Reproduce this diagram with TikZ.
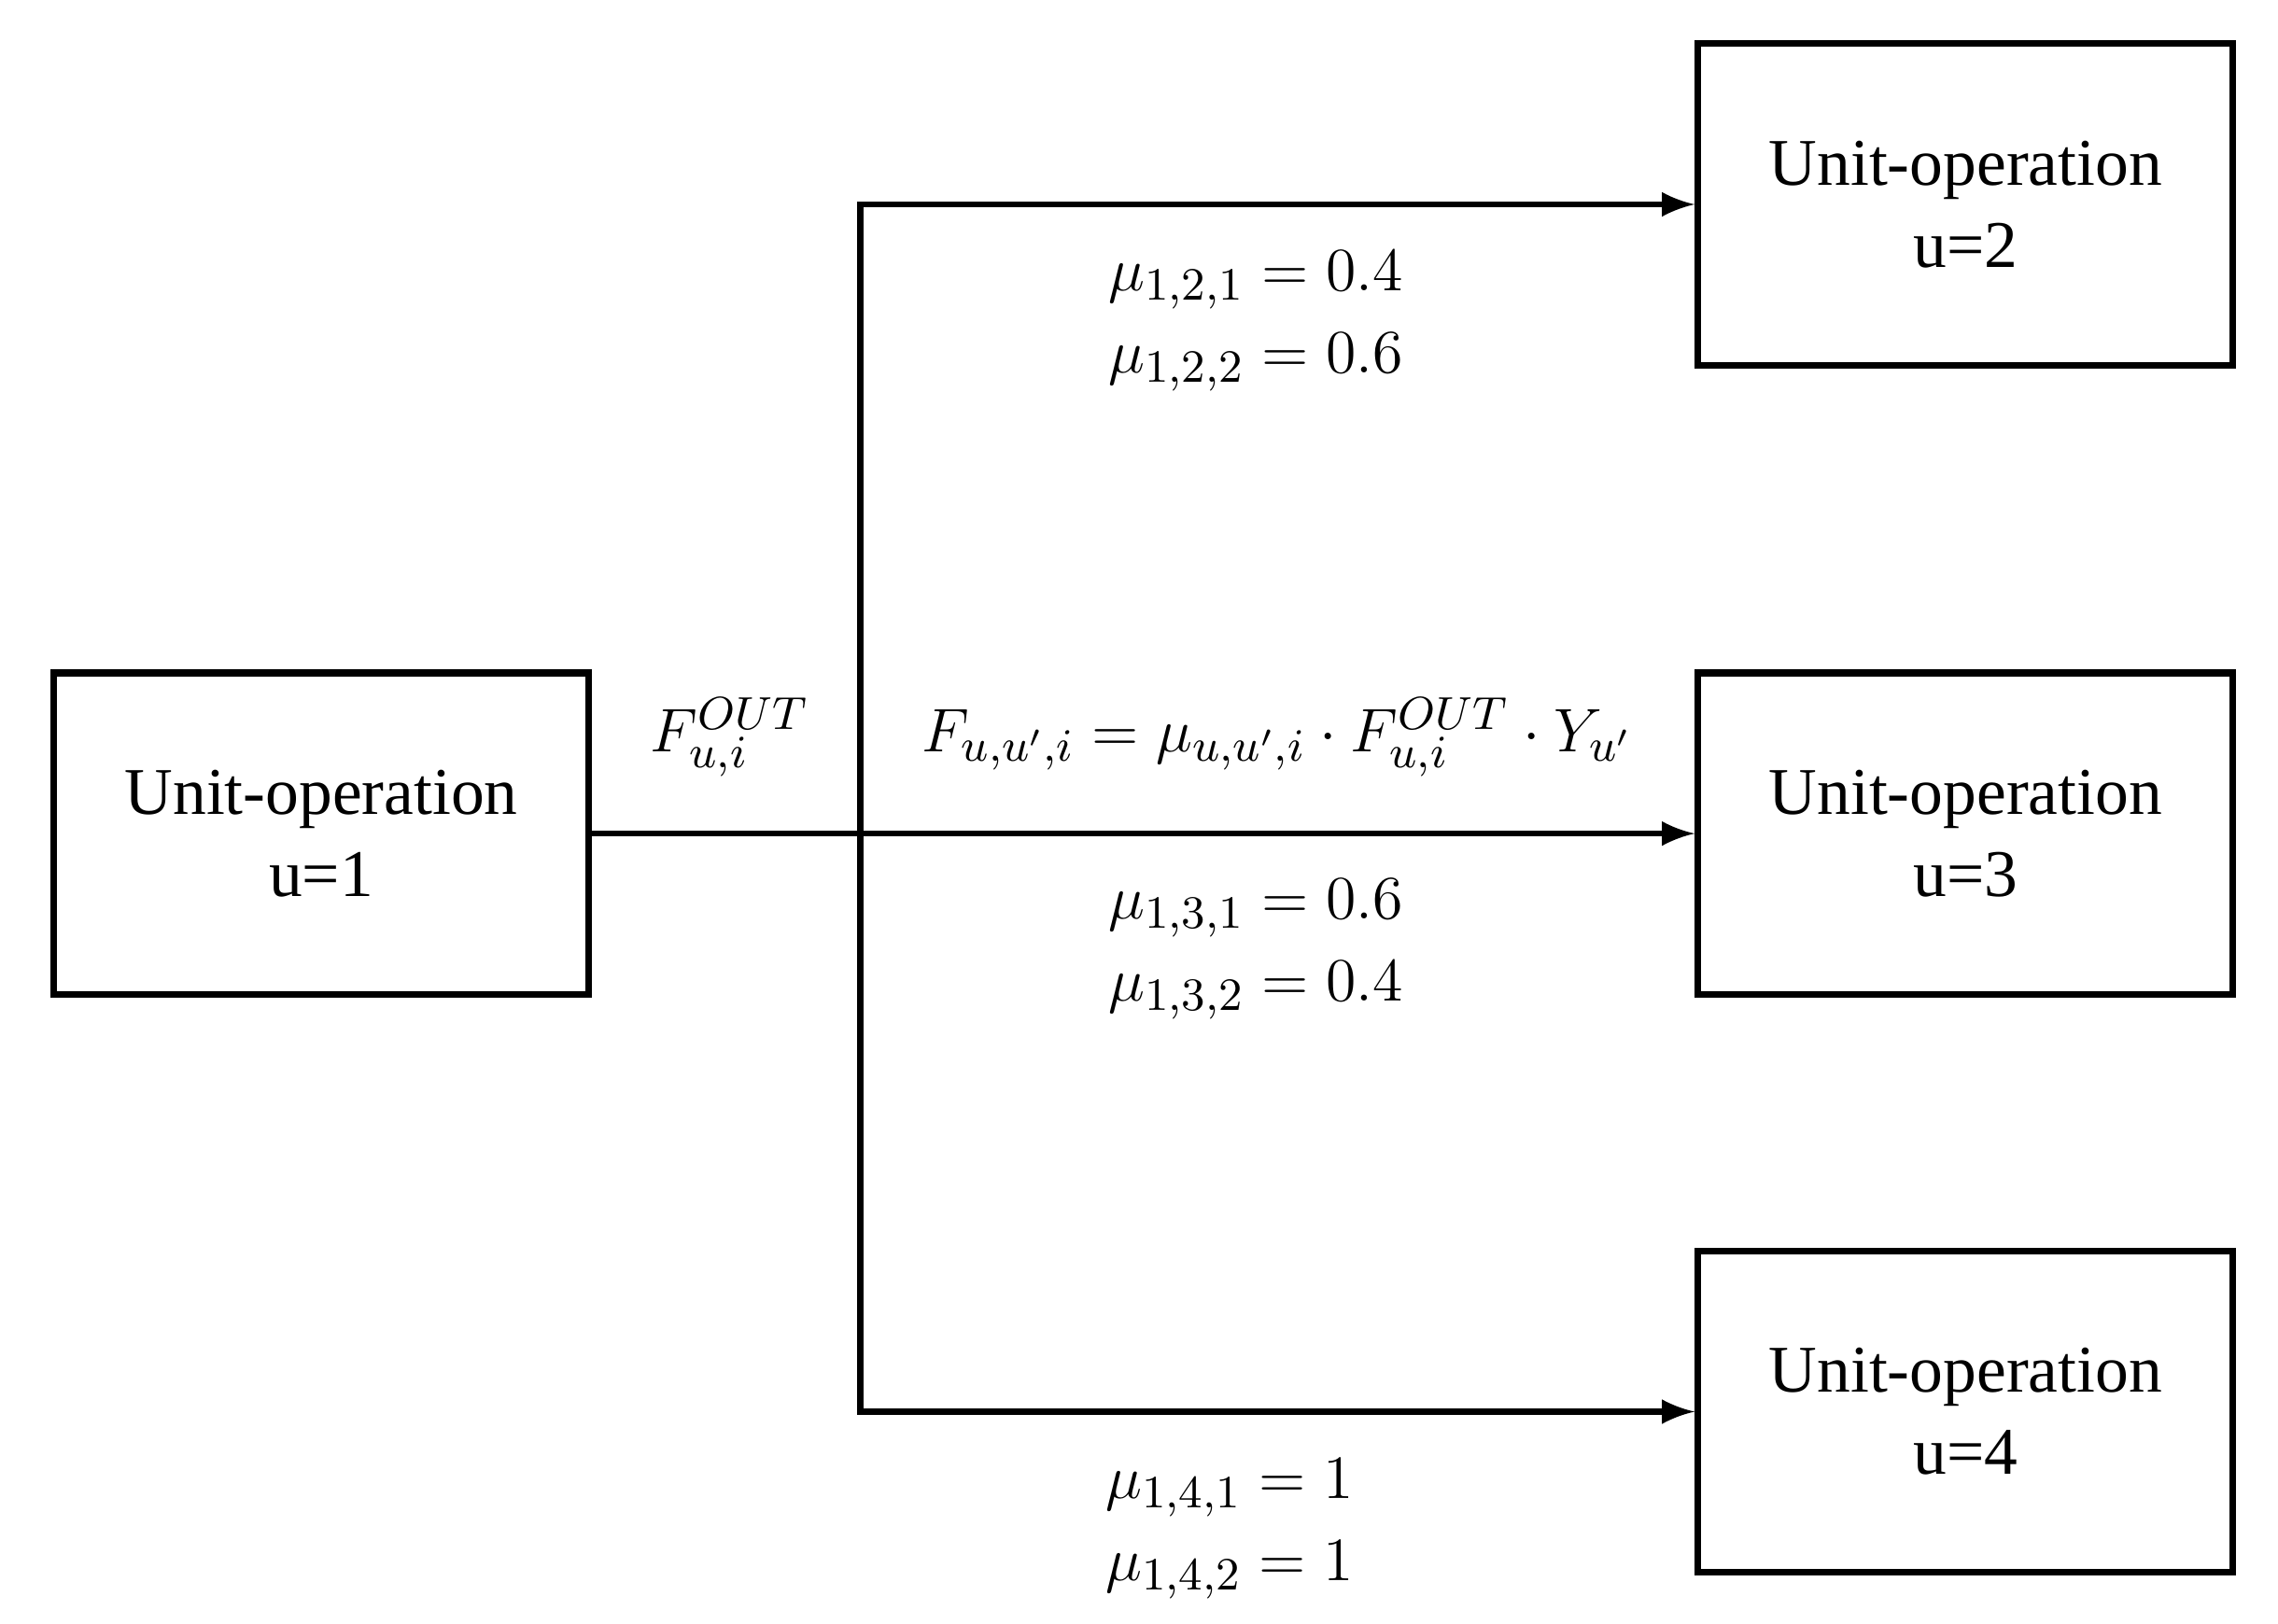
\documentclass[tikz,border=0pt]{standalone}
\usepackage{fontspec}
\setmainfont{Liberation Serif}
\usepackage{tikz}
\usetikzlibrary{positioning}

\begin{document}
\begin{tikzpicture}[x=0.01cm,y=-0.01cm,
  unitbox/.style={draw,line width=1.3pt,minimum width=3.66cm,minimum height=2.2cm,align=center,font=\fontsize{13}{16}\selectfont},
  flow/.style={line width=1.2pt,-latex},
  lbl/.style={font=\fontsize{13}{16}\selectfont}]
\useasboundingbox (0,0) rectangle (1560,1112);

\node[unitbox] (u1) at (220,571) {Unit-operation\\u=1};
\node[unitbox] (u2) at (1346,140) {Unit-operation\\u=2};
\node[unitbox] (u3) at (1346,571) {Unit-operation\\u=3};
\node[unitbox] (u4) at (1346,967) {Unit-operation\\u=4};

\coordinate (split) at (589,571);
\coordinate (top) at (589,140);
\coordinate (bot) at (589,967);

\draw[line width=1.2pt] (u1.east) -- (split);
\draw[flow] (split) -- (u3.west);
\draw[flow] (split) -- (top) -- (u2.west);
\draw[flow] (split) -- (bot) -- (u4.west);

\node[lbl] (fout) at (500,505) {$F_{u,i}^{OUT}$};
\node[lbl] (feq) at (875,505) {$F_{u,u',i}=\mu_{u,u',i}\cdot F_{u,i}^{OUT}\cdot Y_{u'}$};

\node[lbl,align=left] (m2) at (860,220) {$\mu_{1,2,1}=0.4$\\$\mu_{1,2,2}=0.6$};
\node[lbl,align=left] (m3) at (860,650) {$\mu_{1,3,1}=0.6$\\$\mu_{1,3,2}=0.4$};
\node[lbl,align=left] (m4) at (842,1047) {$\mu_{1,4,1}=1$\\$\mu_{1,4,2}=1$};
\end{tikzpicture}
\end{document}
